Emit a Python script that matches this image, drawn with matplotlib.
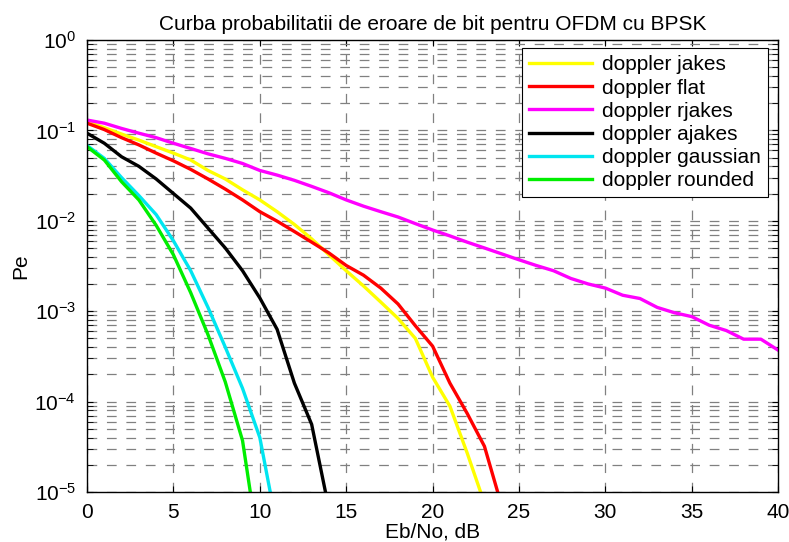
import matplotlib
matplotlib.use("Agg")
import matplotlib.pyplot as plt
from matplotlib.ticker import LogLocator, MultipleLocator, NullFormatter

plt.rcParams.update({
    "font.family": ["Liberation Sans", "DejaVu Sans"],
    "font.size": 15,
    "mathtext.default": "regular",
    "lines.scale_dashes": False,
})

# Eb/No axis (dB)
ebno = list(range(0, 41))

# bit error probability per doppler model
pe_jakes = [0.125, 0.107, 0.091, 0.078, 0.066, 0.056, 0.047, 0.036, 0.029, 0.022,
            0.017, 0.0126, 0.0091, 0.0063, 0.0042, 0.0028, 0.0019, 0.00126, 0.00083,
            0.0005, 0.000186, 0.000089, 0.000027, 0.0000075]
pe_flat = [0.12, 0.102, 0.083, 0.069, 0.056, 0.046, 0.037, 0.029, 0.0224, 0.017,
           0.0126, 0.0099, 0.0076, 0.0058, 0.0044, 0.0032, 0.0025, 0.0018, 0.0012,
           0.00069, 0.00041, 0.00016, 0.000074, 0.000032, 0.000007]
pe_rjakes = [0.13, 0.12, 0.105, 0.093, 0.083, 0.072, 0.063, 0.055, 0.049, 0.043,
             0.036, 0.032, 0.028, 0.024, 0.0204, 0.017, 0.0145, 0.0126, 0.011, 0.0093,
             0.0079, 0.0068, 0.0058, 0.005, 0.0043, 0.0037, 0.0032, 0.0028, 0.0023, 0.002,
             0.0018, 0.0015, 0.00138, 0.0011, 0.00096, 0.00087, 0.0007, 0.00061, 0.00049,
             0.00049, 0.00037]
pe_ajakes = [0.093, 0.072, 0.051, 0.040, 0.029, 0.020, 0.0138, 0.0083, 0.005, 0.0028,
             0.0014, 0.00063, 0.00016, 0.000056, 0.0000065]
pe_gaussian = [0.068, 0.049, 0.030, 0.019, 0.0117, 0.006, 0.0028, 0.0011, 0.0004,
               0.00014, 0.00004, 0.000004]
pe_rounded = [0.066, 0.047, 0.027, 0.017, 0.0089, 0.0042, 0.0016, 0.00055, 0.000165,
              0.000037, 0.000002]

series = [
    ("doppler jakes", pe_jakes, "#ffff00"),
    ("doppler flat", pe_flat, "#ff0000"),
    ("doppler rjakes", pe_rjakes, "#ff00ff"),
    ("doppler ajakes", pe_ajakes, "#000000"),
    ("doppler gaussian", pe_gaussian, "#00e5f0"),
    ("doppler rounded", pe_rounded, "#00ee00"),
]

fig = plt.figure(figsize=(7.89, 5.42), dpi=100)
ax = fig.add_axes([0.1103, 0.0923, 0.876, 0.834])

for name, pe, col in series:
    ax.semilogy(ebno[:len(pe)], pe, color=col, lw=2.4, label=name)

ax.set_xlim(0, 40)
ax.set_ylim(1e-5, 1)
ax.xaxis.set_major_locator(MultipleLocator(5))
ax.yaxis.set_major_locator(LogLocator(base=10, numticks=10))
ax.yaxis.set_minor_locator(LogLocator(base=10, subs=range(2, 10), numticks=10))
ax.yaxis.set_minor_formatter(NullFormatter())

dash = (0, (7, 7))
ax.grid(True, which="major", axis="both", color="#808080", lw=0.9, ls=dash)
ax.grid(True, which="minor", axis="y", color="#808080", lw=0.9, ls=dash)
ax.tick_params(which="both", direction="in", top=True, right=True, length=4)
ax.tick_params(which="major", labelsize=15, pad=8)
for s in ax.spines.values():
    s.set_linewidth(1.0)

ax.set_title("Curba probabilitatii de eroare de bit pentru OFDM cu BPSK", fontsize=15, pad=7)
ax.set_xlabel("Eb/No, dB", fontsize=15, labelpad=0)
ax.set_ylabel("Pe", fontsize=15, labelpad=3)

leg = ax.legend(loc="upper right", bbox_to_anchor=(0.9855, 0.982), borderaxespad=0,
                fancybox=False, framealpha=1, edgecolor="black", handlelength=3.0,
                handletextpad=0.5, borderpad=0.35, labelspacing=0.2, fontsize=15)
leg.get_frame().set_linewidth(0.8)

fig.savefig("out.png", dpi=100)
